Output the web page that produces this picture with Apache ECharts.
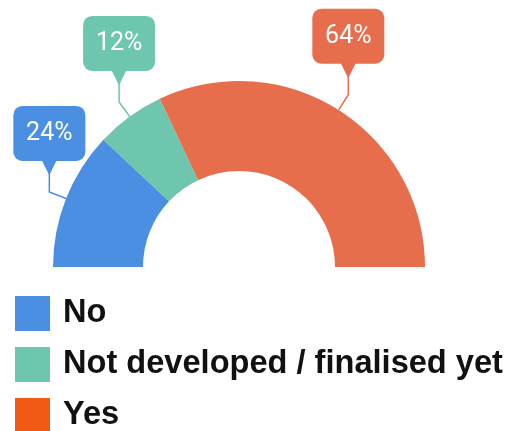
<!DOCTYPE html>
<html>
<head>
<meta charset="utf-8">
<script src="https://cdn.jsdelivr.net/npm/echarts@6/dist/echarts.min.js"></script>
<style>
html,body{margin:0;padding:0;background:#fff;}
#chart{width:509px;height:431px;}
</style>
</head>
<body>
<div id="chart"></div>
<script>
const categories = ['No', 'Not developed / finalised yet', 'Yes'];
const values = [24, 12, 64];
const sliceColors = ['#4a8fe2', '#6ec6ae', '#e76e4d'];
const legendColors = ['#4a8fe2', '#6ec6ae', '#f05a14'];

const chart = echarts.init(document.getElementById('chart'), null, {renderer: 'canvas'});

const data = categories.map((name, i) => ({
  name: name,
  value: values[i],
  itemStyle: {color: sliceColors[i]},
  label: {rich: {box: {backgroundColor: sliceColors[i]}, arr: {color: sliceColors[i]}}}
}));

const RISE = 22;

chart.setOption({
  animation: false,
  legend: {
    orient: 'vertical',
    left: 15,
    top: 296,
    height: 160,
    padding: 0,
    icon: 'rect',
    itemWidth: 35,
    itemHeight: 35,
    itemGap: 16,
    textStyle: {
      fontFamily: 'Liberation Sans',
      fontWeight: 'bold',
      fontSize: 32.6,
      color: '#111',
      padding: [0, 0, 0, 8]
    },
    data: categories.map((name, i) => ({name: name, itemStyle: {color: legendColors[i]}}))
  },
  series: [{
    type: 'pie',
    center: [239, 267],
    radius: [96, 186],
    startAngle: 180,
    endAngle: 360,
    avoidLabelOverlap: false,
    label: {
      show: true,
      position: 'outside',
      formatter: '{box|{d}%}\n{arr|▼}',
      rich: {
        box: {
          color: '#fff',
          fontFamily: 'Roboto',
          fontSize: 25,
          width: 72,
          height: 55,
          align: 'center',
          borderRadius: 9
        },
        arr: {
          fontFamily: 'DejaVu Sans',
          fontSize: 26,
          lineHeight: 9,
          align: 'center',
          width: 72
        }
      }
    },
    labelLine: {
      show: true,
      length: 18,
      length2: 10,
      lineStyle: {width: 1.5}
    },
    labelLayout: function (params) {
      const pts = params.labelLinePoints;
      if (!pts) return {};
      const p0 = pts[0], p1 = pts[1];
      const p2 = [p1[0], p1[1] - RISE];
      return {
        x: p2[0],
        y: p2[1],
        align: 'center',
        verticalAlign: 'bottom',
        labelLinePoints: [p0, p1, p2]
      };
    },
    data: data
  }]
});
</script>
</body>
</html>
